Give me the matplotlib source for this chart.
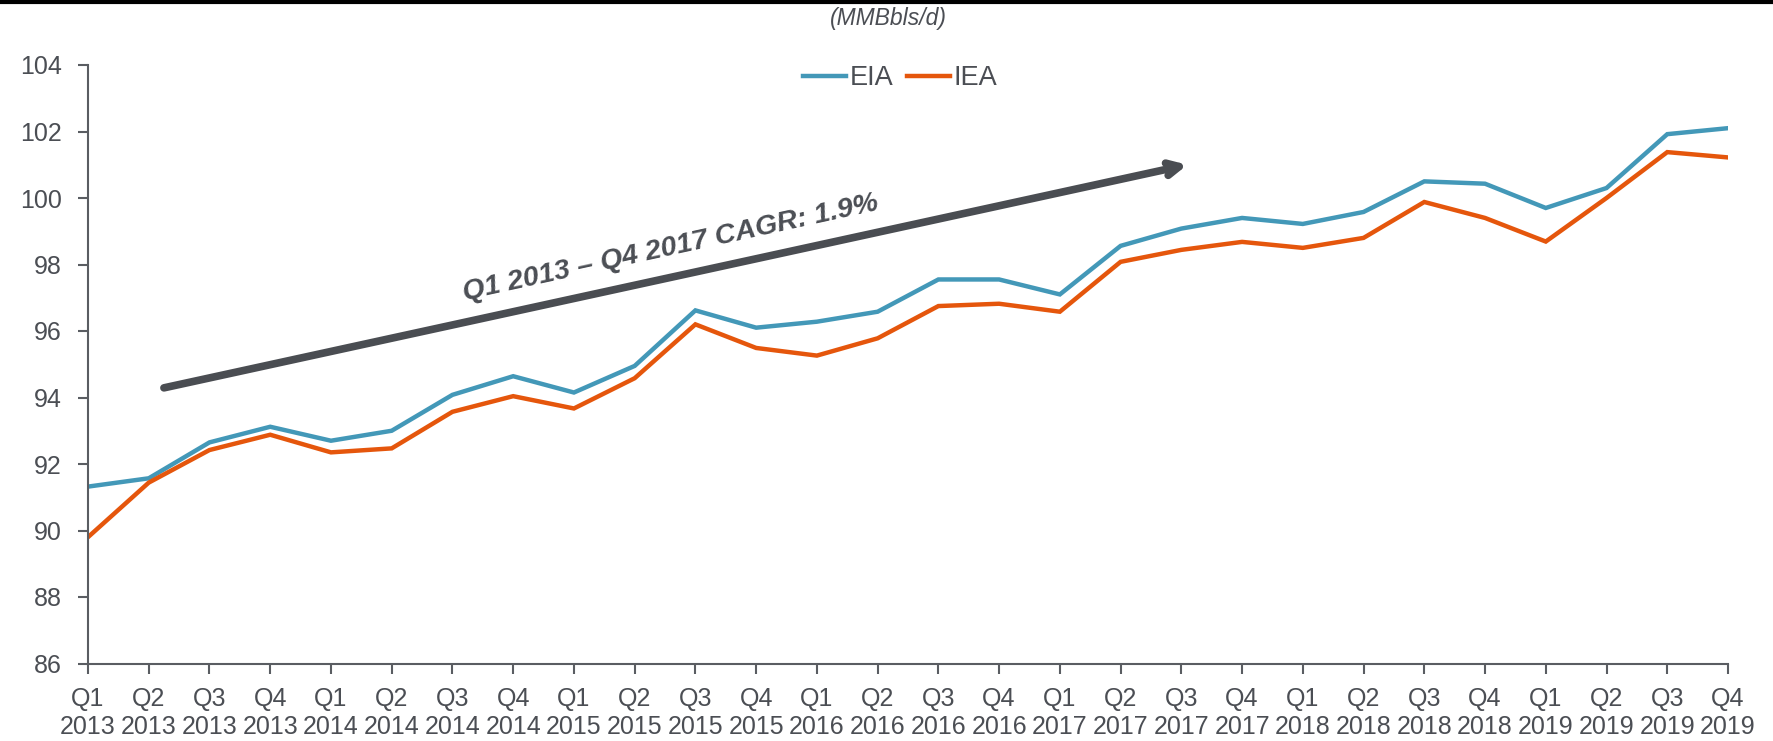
import matplotlib
matplotlib.use("Agg")
import matplotlib.pyplot as plt
from matplotlib.lines import Line2D

plt.rcParams['font.family'] = ['Liberation Sans', 'DejaVu Sans']

quarters = ["Q1", "Q2", "Q3", "Q4"]
years = ["2013", "2014", "2015", "2016", "2017", "2018", "2019"]
tick_labels = [f"{q}\n{y}" for y in years for q in quarters]

eia = [91.32, 91.57, 92.65, 93.12, 92.70, 93.00, 94.08, 94.64, 94.15, 94.95,
       96.62, 96.10, 96.28, 96.58, 97.55, 97.55, 97.10, 98.56, 99.08, 99.40,
       99.22, 99.58, 100.50, 100.43, 99.70, 100.30, 101.92, 102.10]
iea = [89.80, 91.44, 92.42, 92.88, 92.35, 92.47, 93.57, 94.04, 93.67, 94.58,
       96.20, 95.49, 95.26, 95.78, 96.75, 96.82, 96.58, 98.08, 98.44, 98.68,
       98.50, 98.80, 99.88, 99.40, 98.69, 100.00, 101.38, 101.22]

series_names = ["EIA", "IEA"]
colors = ["#4398b8", "#e5560c"]
text_col = "#4b4e54"
spine_col = "#5a5d62"

fig = plt.figure(figsize=(17.74, 7.41), dpi=100)
ax = fig.add_axes([88/1774, 1-663.5/741, (1728-88)/1774, (663.5-65)/741])

x = list(range(len(tick_labels)))
ax.plot(x, eia, color=colors[0], lw=3.2, label=series_names[0], solid_joinstyle='miter')
ax.plot(x, iea, color=colors[1], lw=3.2, label=series_names[1], solid_joinstyle='miter')

ax.set_xlim(0, len(x)-1)
ax.set_ylim(86, 104)
ax.set_yticks(range(86, 105, 2))
ax.set_xticks(x)
ax.set_xticklabels(tick_labels, linespacing=1.2)

for s in ["top", "right"]:
    ax.spines[s].set_visible(False)
for s in ["left", "bottom"]:
    ax.spines[s].set_color(spine_col)
    ax.spines[s].set_linewidth(1.5)
ax.tick_params(axis='both', colors=spine_col, labelcolor=text_col, labelsize=18,
               length=7, width=1.5, direction='out')
ax.tick_params(axis='y', pad=12)
ax.tick_params(axis='x', pad=10)

leg = ax.legend(loc='upper center', bbox_to_anchor=(0.495, 1.04), ncol=2, frameon=False,
                fontsize=19.5, handlelength=1.6, handletextpad=0.12, columnspacing=0.5,
                labelcolor=text_col)

# CAGR arrow and label
ax.annotate("", xy=(18.1, 101.0), xytext=(1.25, 94.29),
            arrowprops=dict(arrowstyle="->,head_length=0.9,head_width=0.45",
                            color="#4a4d52", lw=5.5, shrinkA=0, shrinkB=0))
ax.text(9.6, 98.5, "Q1 2013 \u2013 Q4 2017 CAGR: 1.9%", rotation=12.3,
        rotation_mode='anchor', ha='center', va='center', fontsize=20.5,
        fontweight='bold', fontstyle='italic', color=text_col)

fig.text(888/1774, 1-18/741, "(MMBbls/d)", ha='center', va='center', fontsize=16.5,
         fontstyle='italic', color=text_col)
fig.add_artist(Line2D([0, 1], [1-1.5/741, 1-1.5/741], transform=fig.transFigure,
                      color="black", lw=3))

fig.savefig("out.png", dpi=100)
